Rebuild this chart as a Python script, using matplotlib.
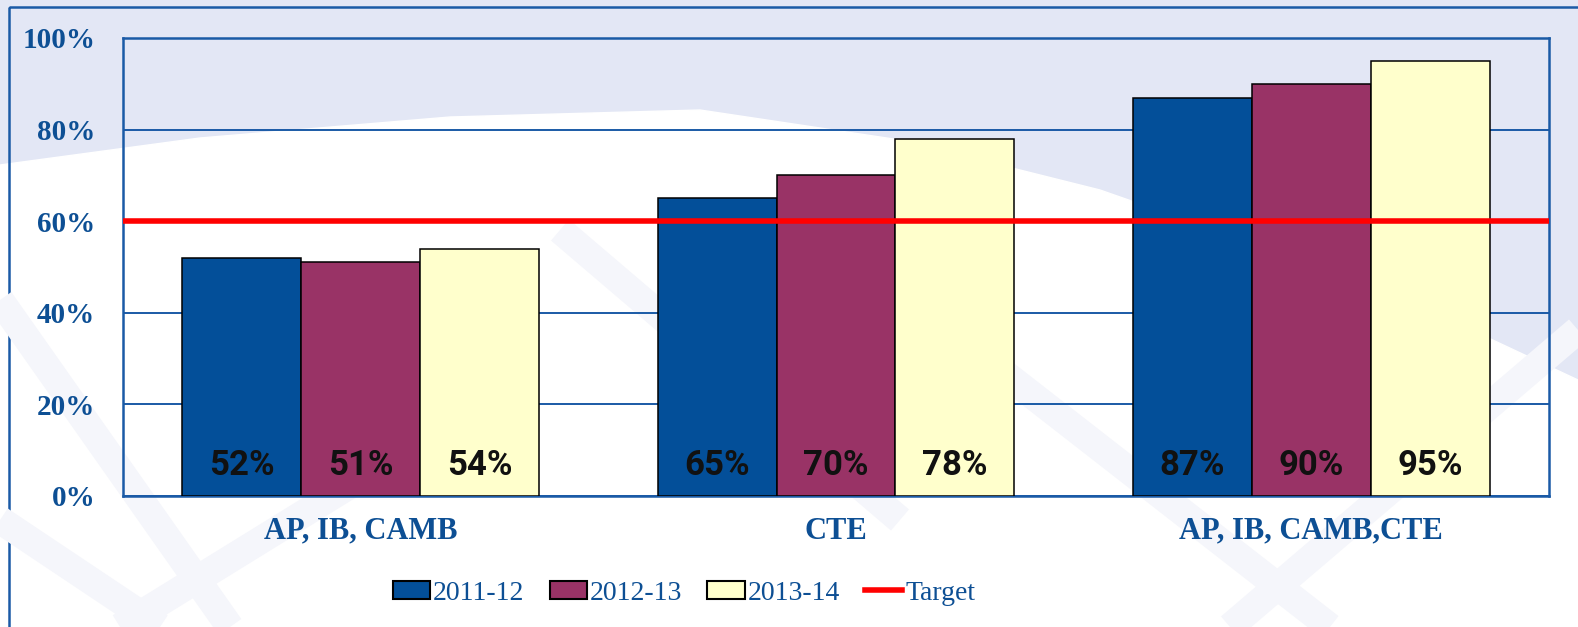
import numpy as np
import matplotlib.pyplot as plt
from matplotlib.patches import Patch, Polygon, Rectangle
from matplotlib.lines import Line2D

# data
categories = ['AP, IB, CAMB', 'CTE', 'AP, IB, CAMB,CTE']
years = ['2011-12', '2012-13', '2013-14']
vals_2011 = [52, 65, 87]
vals_2012 = [51, 70, 90]
vals_2013 = [54, 78, 95]
target = 60
yticks = [0, 20, 40, 60, 80, 100]

bar_colors = ['#034F99', '#993366', '#FFFFCC']
blue_txt = '#0D4F94'
line_blue = '#1A5AA6'

fig = plt.figure(figsize=(15.78, 6.27), dpi=100)

#------------background (pixel coords)-----------------
bg = fig.add_axes([0, 0, 1, 1], zorder=-5)
bg.set_xlim(0, 1578)
bg.set_ylim(627, 0)
bg.axis('off')
bg.add_patch(Rectangle((0, 0), 1578, 627, color='#E3E7F5'))
curve_x = [0, 200, 450, 700, 900, 1100, 1300, 1450, 1578]
curve_y = [165, 138, 117, 110, 140, 190, 260, 320, 380]
white_pts = list(zip(curve_x, curve_y)) + [(1578, 627), (0, 627)]
bg.add_patch(Polygon(white_pts, closed=True, color='white'))
# faint globe stripes
stripes = [((0, 300), (230, 627)), ((120, 627), (520, 380)),
           ((560, 230), (900, 520)), ((1000, 370), (1330, 627)),
           ((1230, 627), (1578, 330)), ((0, 520), (160, 627))]
for (x0, y0), (x1, y1) in stripes:
    bg.plot([x0, x1], [y0, y1], color='#F5F6FB', lw=20, solid_capstyle='butt')
# outer frame
bg.add_patch(Rectangle((9, 7), 1600, 650, fill=False, ec=line_blue, lw=1.8))

#------------main chart---------------------------------
ax = fig.add_axes([123/1578, 1 - 496/627, 1426/1578, 458/627])
ax.set_facecolor('none')
x = np.arange(len(categories))
w = 0.25
series = [vals_2011, vals_2012, vals_2013]
for i, vals in enumerate(series):
    pos = x + (i - 1) * w
    ax.bar(pos, vals, width=w, color=bar_colors[i], edgecolor='black',
           linewidth=1.1, zorder=3)
    for p, v in zip(pos, vals):
        ax.text(p, 4.6, f'{v}%', ha='center', va='baseline', fontsize=25,
                fontweight='bold', family='Roboto', color='#111111', zorder=5)

ax.axhline(target, color='#FF0000', lw=4, zorder=4)

ax.set_xlim(-0.5, 2.5)
ax.set_ylim(0, 100)
ax.set_yticks(yticks)
ax.set_yticklabels([f'{t}%' for t in yticks])
ax.set_xticks(x)
ax.set_xticklabels(categories)
ax.tick_params(axis='y', length=0, pad=20, labelsize=21, labelcolor=blue_txt)
ax.tick_params(axis='x', length=0, pad=15, labelsize=22, labelcolor=blue_txt)
for lab in ax.get_yticklabels() + ax.get_xticklabels():
    lab.set_family('Liberation Serif')
    lab.set_fontweight('bold')
ax.grid(axis='y', color=line_blue, lw=1.4, zorder=0)
for s in ax.spines.values():
    s.set_color(line_blue)
    s.set_linewidth(1.8)

handles = [Patch(facecolor=c, edgecolor='black', lw=1.5) for c in bar_colors]
handles.append(Line2D([0], [0], color='#FF0000', lw=4))
leg = fig.legend(handles, years + ['Target'], loc='center', ncol=4,
                 bbox_to_anchor=(684/1578, 1 - 593/627), frameon=False,
                 prop={'family': 'Liberation Serif', 'size': 20},
                 handlelength=1.35, handleheight=0.6, handletextpad=0.1,
                 columnspacing=0.9, labelcolor=blue_txt)

fig.savefig('out.png', dpi=100)
